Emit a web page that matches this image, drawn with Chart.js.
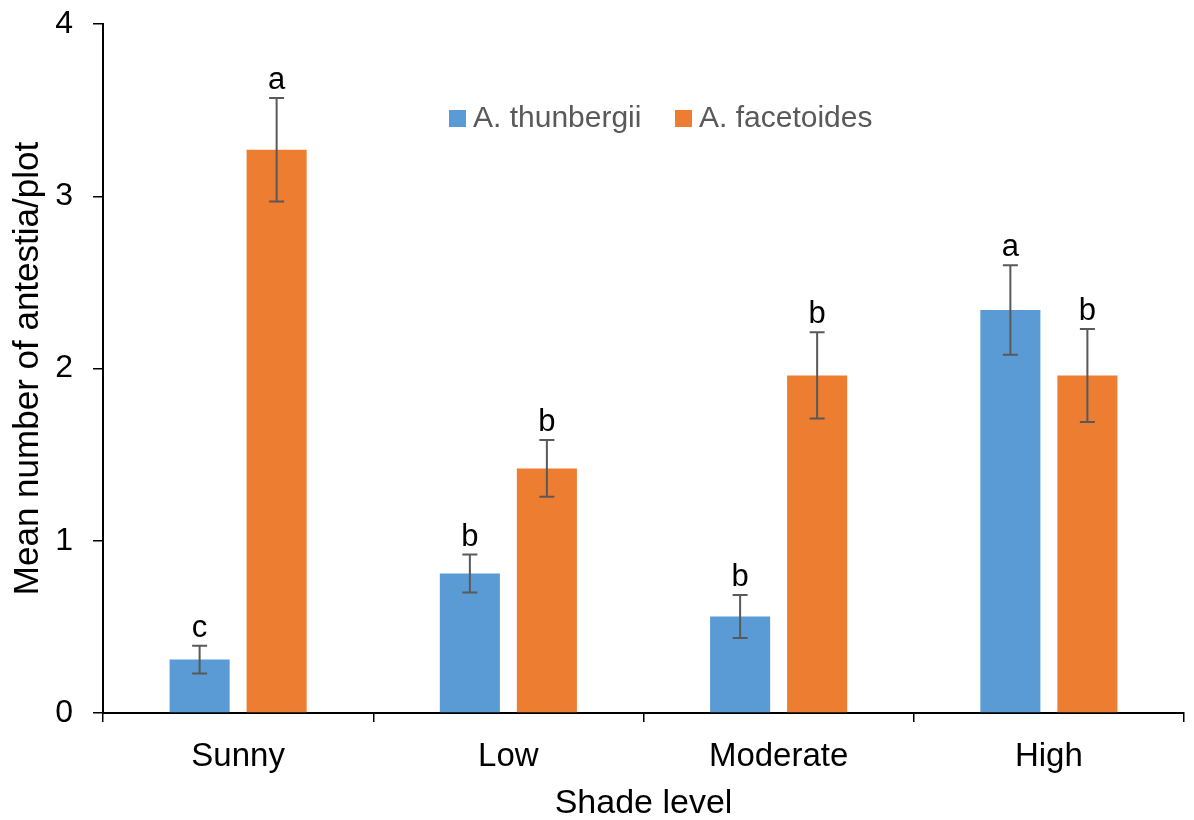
<!DOCTYPE html>
<html>
<head>
<meta charset="utf-8">
<script src="https://cdn.jsdelivr.net/npm/chart.js@4"></script>
<style>
  html, body { margin: 0; padding: 0; background: #fff; }
  #wrap { width: 1194px; height: 820px; position: relative; }
</style>
</head>
<body>
<div id="wrap"><canvas id="shadeChart"></canvas></div>
<script>
const categories = ["Sunny", "Low", "Moderate", "High"];

const thunbergii = [0.31, 0.81, 0.56, 2.34];
const thunbergiiErr = [0.08, 0.11, 0.125, 0.26];
const thunbergiiLetters = ["c", "b", "b", "a"];

const facetoides = [3.27, 1.42, 1.96, 1.96];
const facetoidesErr = [0.30, 0.165, 0.25, 0.27];
const facetoidesLetters = ["a", "b", "b", "b"];

const yTicks = [0, 1, 2, 3, 4];

const FONT = "'Liberation Sans', Arial, sans-serif";
Chart.defaults.font.family = FONT;
Chart.defaults.color = "#000";

// error bars + significance letters on top of each bar
const errorBars = {
  id: 'errorBars',
  afterDatasetsDraw(chart){
    const {ctx, scales:{y}} = chart;
    ctx.save();
    chart.data.datasets.forEach((ds, i)=>{
      const meta = chart.getDatasetMeta(i);
      meta.data.forEach((bar, j)=>{
        const v = ds.data[j], e = ds.err[j];
        const yTop = y.getPixelForValue(v + e);
        const yBot = y.getPixelForValue(v - e);
        const x = bar.x;
        ctx.strokeStyle = '#595959';
        ctx.lineWidth = 2;
        ctx.beginPath();
        ctx.moveTo(x, yTop); ctx.lineTo(x, yBot);
        ctx.moveTo(x - 7.5, yTop); ctx.lineTo(x + 7.5, yTop);
        ctx.moveTo(x - 7.5, yBot); ctx.lineTo(x + 7.5, yBot);
        ctx.stroke();

        ctx.fillStyle = '#000';
        ctx.font = `31px ${FONT}`;
        ctx.textAlign = 'center';
        ctx.textBaseline = 'alphabetic';
        ctx.fillText(ds.letters[j], x, yTop - 9);
      });
    });
    ctx.restore();
  }
};

// legend sits inside the plot area
const innerLegend = {
  id: 'innerLegend',
  afterDraw(chart){
    const {ctx} = chart;
    const xs = [449, 675];
    const cy = 119;
    ctx.save();
    chart.data.datasets.forEach((ds, i)=>{
      ctx.fillStyle = ds.backgroundColor;
      ctx.fillRect(xs[i], cy - 9, 17, 17);
      ctx.fillStyle = '#595959';
      ctx.font = `30px ${FONT}`;
      ctx.textAlign = 'left';
      ctx.textBaseline = 'middle';
      ctx.fillText(ds.label, xs[i] + 24, cy);
    });
    ctx.restore();
  }
};

new Chart(document.getElementById('shadeChart'), {
  type: 'bar',
  data: {
    labels: categories,
    datasets: [
      {label: 'A. thunbergii', data: thunbergii, err: thunbergiiErr, letters: thunbergiiLetters,
       backgroundColor: '#5B9BD5', categoryPercentage: 0.57, barPercentage: 0.78},
      {label: 'A. facetoides', data: facetoides, err: facetoidesErr, letters: facetoidesLetters,
       backgroundColor: '#ED7D31', categoryPercentage: 0.57, barPercentage: 0.78}
    ]
  },
  options: {
    responsive: true,
    maintainAspectRatio: false,
    animation: false,
    layout: {padding: {top: 24, right: 10, left: 0, bottom: 0}},
    plugins: {legend: {display: false}, tooltip: {enabled: false}},
    scales: {
      x: {
        grid: {drawOnChartArea: false, drawTicks: true, tickLength: 9, color: '#000', lineWidth: 1.5, offset: true},
        border: {color: '#000', width: 2},
        ticks: {font: {size: 33}, color: '#000', padding: 15, maxRotation: 0},
        title: {display: true, text: 'Shade level', font: {size: 34}, color: '#000', padding: {top: 0, bottom: -4}},
        afterFit(scale){ scale.height = 107; scale.paddingLeft = 0; scale.paddingRight = 0; }
      },
      y: {
        min: 0, max: 4,
        afterBuildTicks(scale){ scale.ticks = yTicks.map(v=>({value: v})); },
        grid: {drawOnChartArea: false, drawTicks: true, tickLength: 10, color: '#000', lineWidth: 1.5},
        border: {color: '#000', width: 2},
        ticks: {font: {size: 32}, color: '#000', padding: 20},
        title: {display: true, text: 'Mean number of antestia/plot', font: {size: 35}, color: '#000', padding: {top: 7, bottom: 0}},
        afterFit(scale){ scale.width = 103; scale.paddingTop = 0; scale.paddingBottom = 0; }
      }
    }
  },
  plugins: [errorBars, innerLegend]
});
</script>
</body>
</html>
